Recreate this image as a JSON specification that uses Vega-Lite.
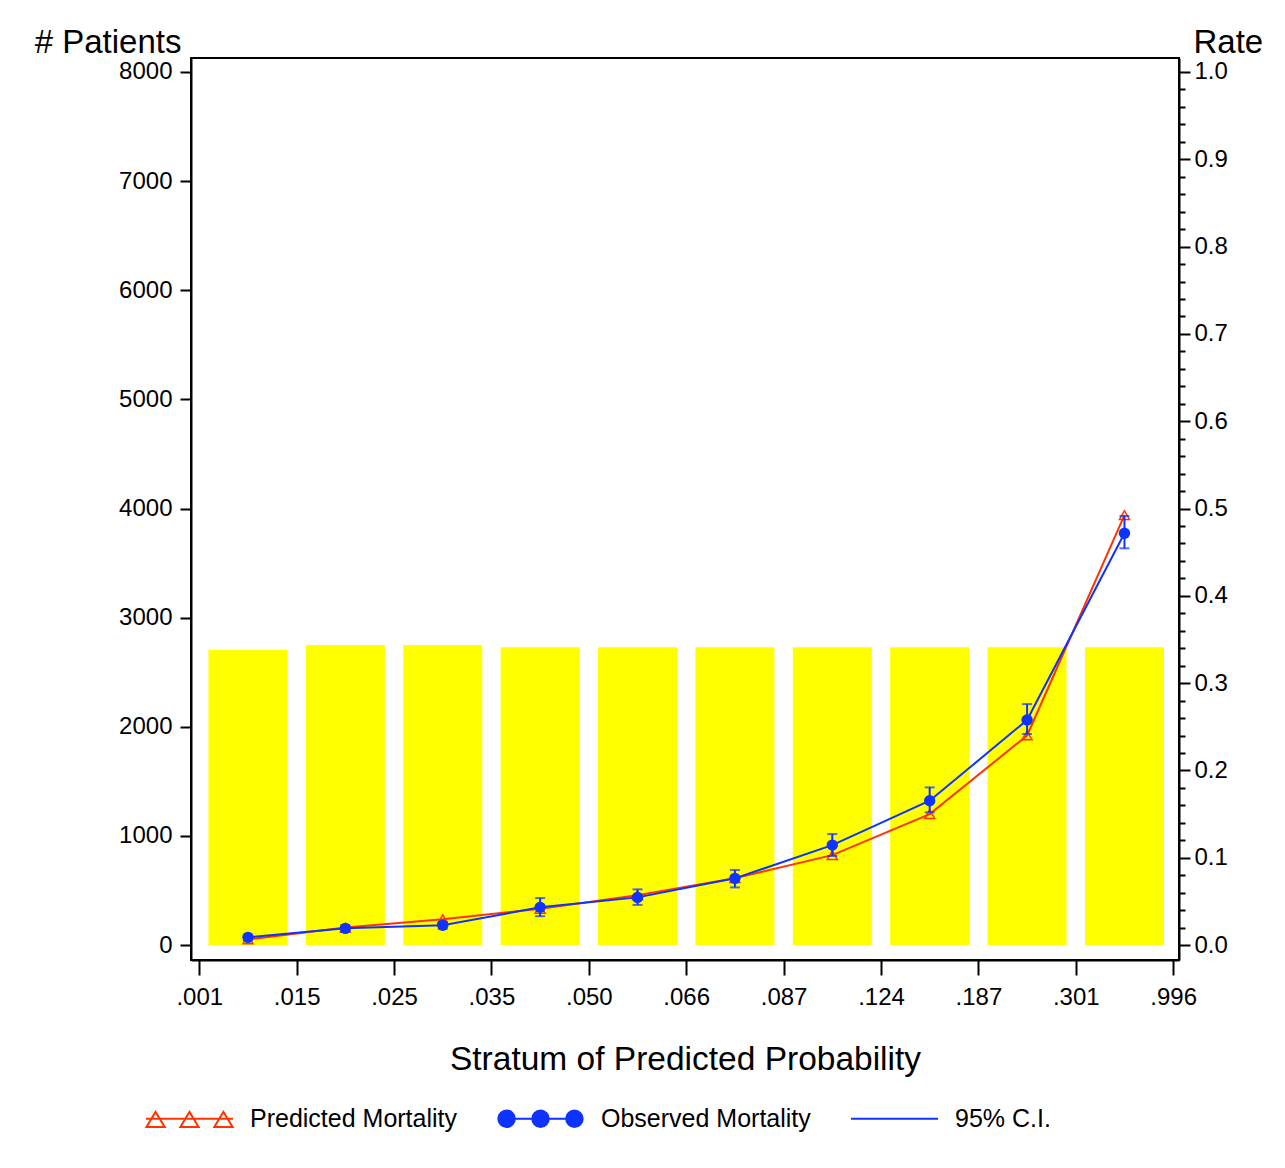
{
  "$schema": "https://vega.github.io/schema/vega-lite/v6.json",
  "width": 988,
  "height": 902,
  "autosize": {"type": "none"},
  "padding": {"left": 191, "top": 58, "right": 106, "bottom": 208},
  "background": "white",
  "config": {
    "font": "Liberation Sans",
    "view": {"stroke": "black", "strokeWidth": 2},
    "axis": {
      "grid": false,
      "domainColor": "black",
      "domainWidth": 2,
      "tickColor": "black",
      "tickWidth": 2,
      "labelColor": "black",
      "titleColor": "black",
      "labelFont": "Liberation Sans",
      "titleFont": "Liberation Sans",
      "labelFontSize": 24,
      "titleFontSize": 33,
      "titleFontWeight": "normal",
      "labelFlush": false,
      "labelOverlap": false,
      "labelBound": false
    },
    "legend": {
      "labelFont": "Liberation Sans",
      "labelFontSize": 25,
      "labelColor": "black",
      "labelLimit": 400
    }
  },
  "data": {
    "values": [
      {"pos": 0.5, "patients": 2706, "pred": 0.0065, "obs": 0.0088, "lo": 0.0060, "hi": 0.0118},
      {"pos": 1.5, "patients": 2749, "pred": 0.0200, "obs": 0.0191, "lo": 0.0155, "hi": 0.0228},
      {"pos": 2.5, "patients": 2749, "pred": 0.0295, "obs": 0.0226, "lo": 0.0188, "hi": 0.0265},
      {"pos": 3.5, "patients": 2728, "pred": 0.0415, "obs": 0.0432, "lo": 0.0330, "hi": 0.0538},
      {"pos": 4.5, "patients": 2728, "pred": 0.0570, "obs": 0.0546, "lo": 0.0460, "hi": 0.0638},
      {"pos": 5.5, "patients": 2728, "pred": 0.0765, "obs": 0.0764, "lo": 0.0660, "hi": 0.0859},
      {"pos": 6.5, "patients": 2728, "pred": 0.1030, "obs": 0.1145, "lo": 0.1020, "hi": 0.1271},
      {"pos": 7.5, "patients": 2728, "pred": 0.1500, "obs": 0.1653, "lo": 0.1520, "hi": 0.1806},
      {"pos": 8.5, "patients": 2728, "pred": 0.2400, "obs": 0.2577, "lo": 0.2417, "hi": 0.2760},
      {"pos": 9.5, "patients": 2728, "pred": 0.4925, "obs": 0.4716, "lo": 0.4544, "hi": 0.4914}
    ]
  },
  "layer": [
    {
      "mark": {"type": "bar", "width": 79, "color": "#FFFF00"},
      "encoding": {
        "x": {
          "field": "pos",
          "type": "quantitative",
          "scale": {"domain": [-0.085, 10.06], "nice": false, "zero": false, "padding": 0},
          "axis": {
            "values": [0, 1, 2, 3, 4, 5, 6, 7, 8, 9, 10],
            "labelExpr": "['.001','.015','.025','.035','.050','.066','.087','.124','.187','.301','.996'][round(datum.value)]",
            "tickSize": 15,
            "labelPadding": 10,
            "title": "Stratum of Predicted Probability",
            "titleFontSize": 33.5,
            "titleBaseline": "alphabetic",
            "titleY": 109
          }
        },
        "y": {
          "field": "patients",
          "type": "quantitative",
          "scale": {"domain": [-137, 8128], "nice": false, "zero": false},
          "axis": {
            "orient": "left",
            "values": [0, 1000, 2000, 3000, 4000, 5000, 6000, 7000, 8000],
            "format": "d",
            "tickSize": 11,
            "labelPadding": 8,
            "title": "# Patients",
            "titleAngle": 0,
            "titleAlign": "right",
            "titleBaseline": "alphabetic",
            "titleX": -10,
            "titleY": -6
          }
        }
      }
    },
    {
      "encoding": {"x": {"field": "pos", "type": "quantitative"}},
      "layer": [
        {
          "mark": {"type": "line", "color": "#FF3300", "strokeWidth": 2},
          "encoding": {
            "y": {
              "field": "pred",
              "type": "quantitative",
              "scale": {"domain": [-0.017125, 1.016], "nice": false, "zero": false},
              "axis": {
                "orient": "right",
                "values": [0, 0.02, 0.04, 0.06, 0.08, 0.1, 0.12, 0.14, 0.16, 0.18, 0.2, 0.22, 0.24, 0.26, 0.28, 0.3, 0.32, 0.34, 0.36, 0.38, 0.4, 0.42, 0.44, 0.46, 0.48, 0.5, 0.52, 0.54, 0.56, 0.58, 0.6, 0.62, 0.64, 0.66, 0.68, 0.7, 0.72, 0.74, 0.76, 0.78, 0.8, 0.82, 0.84, 0.86, 0.88, 0.9, 0.92, 0.94, 0.96, 0.98, 1.0],
                "tickCount": 200,
                "labelExpr": "abs(datum.value*10 - round(datum.value*10)) < 0.001 ? format(datum.value, '.1f') : ''",
                "tickSize": {"condition": {"test": "abs(datum.value*10 - round(datum.value*10)) < 0.001", "value": 11}, "value": 6},
                "labelPadding": 4,
                "title": "Rate",
                "titleAngle": 0,
                "titleAlign": "left",
                "titleBaseline": "alphabetic",
                "titleX": 14,
                "titleY": -6
              }
            }
          }
        },
        {
          "mark": {"type": "point", "shape": "triangle-up", "filled": false, "color": "#FF3300", "strokeWidth": 1.5, "size": 100, "opacity": 1},
          "encoding": {"y": {"field": "pred", "type": "quantitative", "title": "Rate"}}
        },
        {
          "mark": {"type": "line", "color": "#0F33FF", "strokeWidth": 2},
          "encoding": {"y": {"field": "obs", "type": "quantitative", "title": "Rate"}}
        },
        {
          "mark": {"type": "errorbar", "color": "#0F33FF", "thickness": 2, "ticks": {"size": 10, "thickness": 2, "color": "#0F33FF"}},
          "encoding": {
            "y": {"field": "lo", "type": "quantitative", "title": "Rate"},
            "y2": {"field": "hi"}
          }
        },
        {
          "mark": {"type": "point", "shape": "circle", "filled": true, "color": "#0F33FF", "size": 130, "opacity": 1},
          "encoding": {"y": {"field": "obs", "type": "quantitative", "title": "Rate"}}
        },
        {
          "transform": [{"filter": "false"}],
          "mark": {"type": "point", "opacity": 1, "strokeWidth": 2},
          "encoding": {
            "shape": {
              "field": "series",
              "type": "nominal",
              "scale": {
                "domain": ["Predicted Mortality", "Observed Mortality", "95% C.I."],
                "range": [
                  "M-1,0L1,0M-0.99,0.19L-0.78,-0.155L-0.57,0.19ZM-0.21,0.19L0,-0.155L0.21,0.19ZM0.57,0.19L0.78,-0.155L0.99,0.19Z",
                  "M-0.97,0A0.19,0.19 0 1 1 -0.59,0A0.19,0.19 0 1 1 -0.97,0ZM-0.19,0A0.19,0.19 0 1 1 0.19,0A0.19,0.19 0 1 1 -0.19,0ZM0.59,0A0.19,0.19 0 1 1 0.97,0A0.19,0.19 0 1 1 0.59,0ZM-0.59,0L-0.19,0M0.19,0L0.59,0",
                  "M-1,0L1,0"
                ]
              },
              "legend": {
                "title": null,
                "orient": "none",
                "legendX": -46,
                "legendY": 1016,
                "direction": "horizontal",
                "symbolSize": 7569,
                "symbolStrokeWidth": 2,
                "labelOffset": 16,
                "columnPadding": 36,
                "padding": 0
              }
            },
            "fill": {
              "field": "series",
              "type": "nominal",
              "scale": {"domain": ["Predicted Mortality", "Observed Mortality", "95% C.I."], "range": ["transparent", "#0F33FF", "transparent"]},
              "legend": {"title": null}
            },
            "stroke": {
              "field": "series",
              "type": "nominal",
              "scale": {"domain": ["Predicted Mortality", "Observed Mortality", "95% C.I."], "range": ["#FF3300", "#0F33FF", "#0F33FF"]},
              "legend": {"title": null}
            }
          }
        }
      ]
    }
  ],
  "resolve": {"scale": {"y": "independent"}}
}
